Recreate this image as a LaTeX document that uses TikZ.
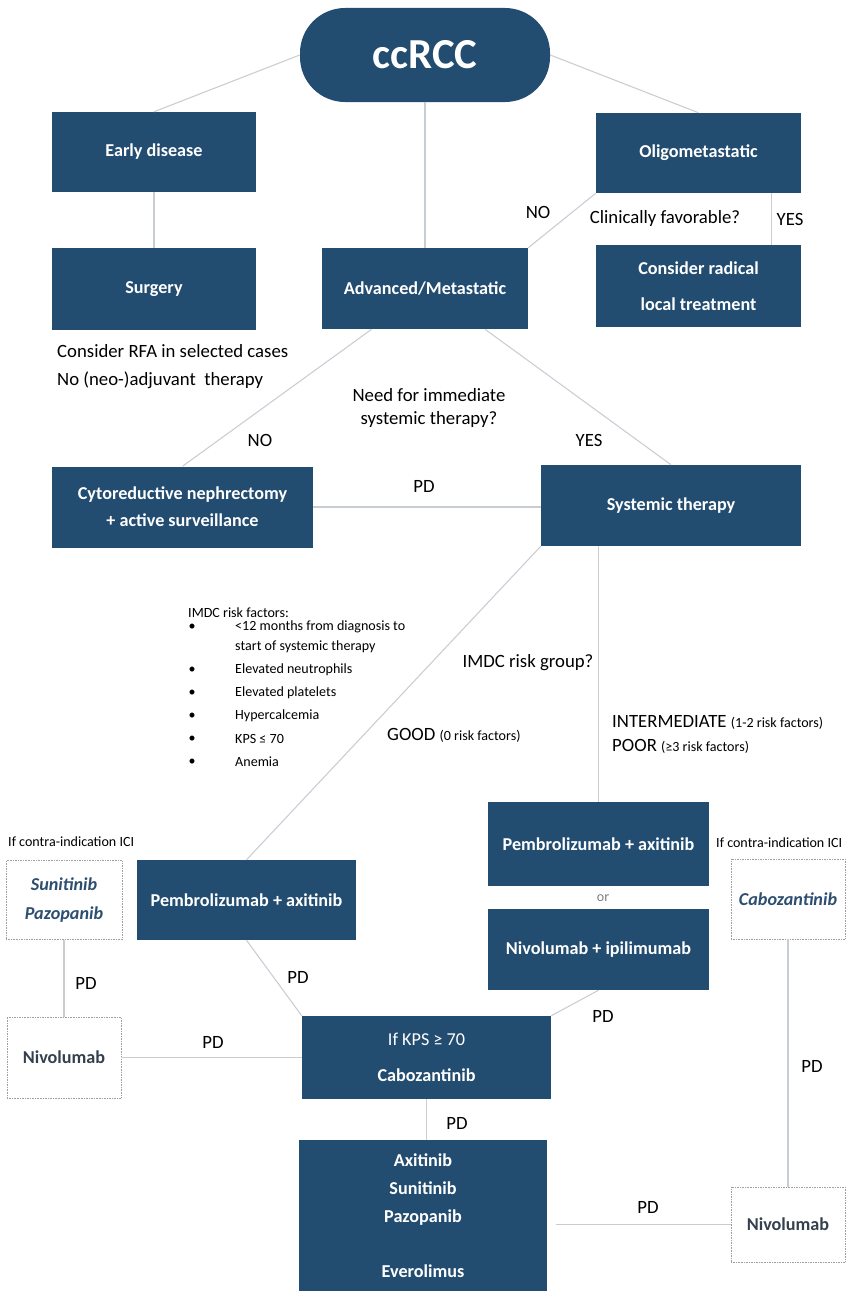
\documentclass[tikz,border=0pt]{standalone}
\usepackage{fontspec}
\setmainfont{Carlito}
\usetikzlibrary{positioning}
\definecolor{boxblue}{RGB}{34,76,112}
\definecolor{linegray}{RGB}{200,205,212}
\definecolor{itblue}{RGB}{45,78,112}
\definecolor{nivogray}{RGB}{52,64,78}
\tikzset{
	wh/.style 2 args={minimum width=#1*0.03cm, minimum height=#2*0.03cm},
	bluebox/.style={rectangle, fill=boxblue, text=white, inner sep=0pt, align=center,
		font=\fontsize{15.5}{19}\selectfont\bfseries},
	dotbox/.style={rectangle, draw=gray!75, densely dotted, fill=white, inner sep=0pt, align=center,
		font=\fontsize{15.5}{19}\selectfont\bfseries},
	lbl/.style={inner sep=0pt, font=\fontsize{16}{19}\selectfont},
	smalltxt/.style={inner sep=0pt, font=\fontsize{12}{14}\selectfont},
	conn/.style={draw=linegray, line width=0.9pt},
}

\begin{document}
\begin{tikzpicture}[x=0.03cm, y=-0.03cm]
	\fill[white] (0,0) rectangle (846,1291);
	\useasboundingbox (0,0) rectangle (846,1291);

	% top level
	\node[bluebox, wh={250}{94}, rounded corners=1.35cm, font=\fontsize{36.5}{42}\selectfont\bfseries] (ccrcc) at (425,55) {ccRCC};
	\node[bluebox, wh={204}{80}] (early) at (154,152) {Early disease};
	\node[bluebox, wh={204}{82}] (surgery) at (154,289) {Surgery};
	\node[bluebox, wh={206}{81}] (adv) at (425,288.5) {Advanced/Metastatic};
	\node[bluebox, wh={205}{80}] (oligo) at (698.5,153) {Oligometastatic};
	\node[bluebox, wh={205}{82}] (radical) at (698.5,286) {Consider radical\\[12pt]local treatment};

	\draw[conn] (ccrcc.west) -- (early.north);
	\draw[conn] (ccrcc.east) -- (oligo.north);
	\draw[conn] (ccrcc.south) -- (adv.north);
	\draw[conn] (early) -- (surgery);
	\draw[conn] (oligo.south west) -- (adv.north east);
	\draw[conn] ([xshift=-0.9cm]oligo.south east) -- ([xshift=-0.9cm]radical.north east);

	\node[lbl] (no1) at (538,212) {NO};
	\node[lbl] (favq) at (665,219) {Clinically favorable?};
	\node[lbl] (yes1) at (790,219) {YES};
	\node[lbl, anchor=west] (rfa) at (57,351) {Consider RFA in selected cases};
	\node[lbl, anchor=west] (neoadj) at (57,380) {No (neo-)adjuvant\ \ therapy};

	% advanced disease
	\node[bluebox, wh={261}{81}] (cyto) at (182.5,507) {Cytoreductive nephrectomy\\[4pt]+ active surveillance};
	\node[bluebox, wh={260}{81}] (syst) at (671,505.5) {Systemic therapy};

	\draw[conn] ([xshift=-1.6cm]adv.south) -- (cyto.north);
	\draw[conn] ([xshift=1.8cm]adv.south) -- (syst.north);
	\draw[conn] (cyto.east) -- (cyto.east -| syst.west);

	\node[lbl, align=center] (needq) at (429,408) {Need for immediate\\systemic therapy?};
	\node[lbl] (no2) at (260,440) {NO};
	\node[lbl] (yes2) at (589,440) {YES};
	\node[lbl] (pd0) at (424,486) {PD};

	% IMDC risk factors
	\node[smalltxt, anchor=west] (riskhead) at (188,613) {IMDC risk factors:};
	\foreach \yy/\txt [count=\i] in {627/{<12 months from diagnosis to}, 670/Elevated neutrophils, 693/Elevated platelets, 716/Hypercalcemia, 739/KPS ≤ 70, 762/Anemia}
	{
		\node[smalltxt] (bul\i) at (192,\yy) {•};
		\node[smalltxt, anchor=west] (risk\i) at (235,\yy) {\txt};
	}
	\node[smalltxt, anchor=west] (risk1b) at (235,647) {start of systemic therapy};

	\node[lbl] (groupq) at (528,663) {IMDC risk group?};
	\node[lbl, anchor=west] (good) at (387,735) {GOOD {\fontsize{12}{14}\selectfont (0 risk factors)}};
	\node[lbl, anchor=west] (interm) at (612,722) {INTERMEDIATE {\fontsize{12}{14}\selectfont (1-2 risk factors)}};
	\node[lbl, anchor=west] (poor) at (612,746) {POOR {\fontsize{12}{14}\selectfont (≥3 risk factors)}};

	% first line
	\node[bluebox, wh={219}{80}] (pembroL) at (246.5,900) {Pembrolizumab + axitinib};
	\node[bluebox, wh={221}{84}] (pembroR) at (598.5,844) {Pembrolizumab + axitinib};
	\node[bluebox, wh={221}{81}] (nivoipi) at (598.5,949.5) {Nivolumab + ipilimumab};
	\node[smalltxt, text=gray] (or) at (603,898) {or};

	\draw[conn] (syst.south west) -- (pembroL.north);
	\draw[conn] (pembroR.north |- syst.south) -- (pembroR.north);

	\node[smalltxt, anchor=west] (ciL) at (8,842) {If contra-indication ICI};
	\node[smalltxt, anchor=west] (ciR) at (716,843) {If contra-indication ICI};
	\node[dotbox, wh={116}{79}, text=itblue, font=\fontsize{15.5}{19}\selectfont\bfseries\itshape] (sunpaz) at (64,900) {Sunitinib\\[5pt]Pazopanib};
	\node[dotbox, wh={114}{80}, text=itblue, font=\fontsize{15.5}{19}\selectfont\bfseries\itshape] (caboR) at (788,899) {Cabozantinib};

	% later lines
	\node[dotbox, wh={114}{81}, text=nivogray] (nivoL) at (64,1057.5) {Nivolumab};
	\node[bluebox, wh={249}{83}] (cabo) at (426.5,1057.5) {{\mdseries If KPS ≥ 70}\\[12pt]Cabozantinib};
	\node[bluebox, wh={248}{151}] (last) at (423,1215.5) {Axitinib\\[5pt]Sunitinib\\[5pt]Pazopanib\\[28pt]Everolimus};
	\node[dotbox, wh={114}{75}, text=nivogray] (nivoR) at (788,1224.5) {Nivolumab};

	\draw[conn] (sunpaz) -- (nivoL);
	\draw[conn] (nivoL.east) -- (cabo.west);
	\draw[conn] (pembroL.south) -- (cabo.north west);
	\draw[conn] (nivoipi.south) -- (cabo.north east);
	\draw[conn] (cabo.south) -- (cabo.south |- last.north);
	\draw[conn] (caboR) -- (nivoR);
	\draw[conn] ([xshift=0.27cm]nivoR.west -| last.east) -- (nivoR.west);

	\node[lbl] (pd1) at (86,983) {PD};
	\node[lbl] (pd2) at (213,1042) {PD};
	\node[lbl] (pd3) at (298,977) {PD};
	\node[lbl] (pd4) at (603,1016) {PD};
	\node[lbl] (pd5) at (812,1066) {PD};
	\node[lbl] (pd6) at (457,1123) {PD};
	\node[lbl] (pd7) at (648,1207) {PD};
\end{tikzpicture}
\end{document}
